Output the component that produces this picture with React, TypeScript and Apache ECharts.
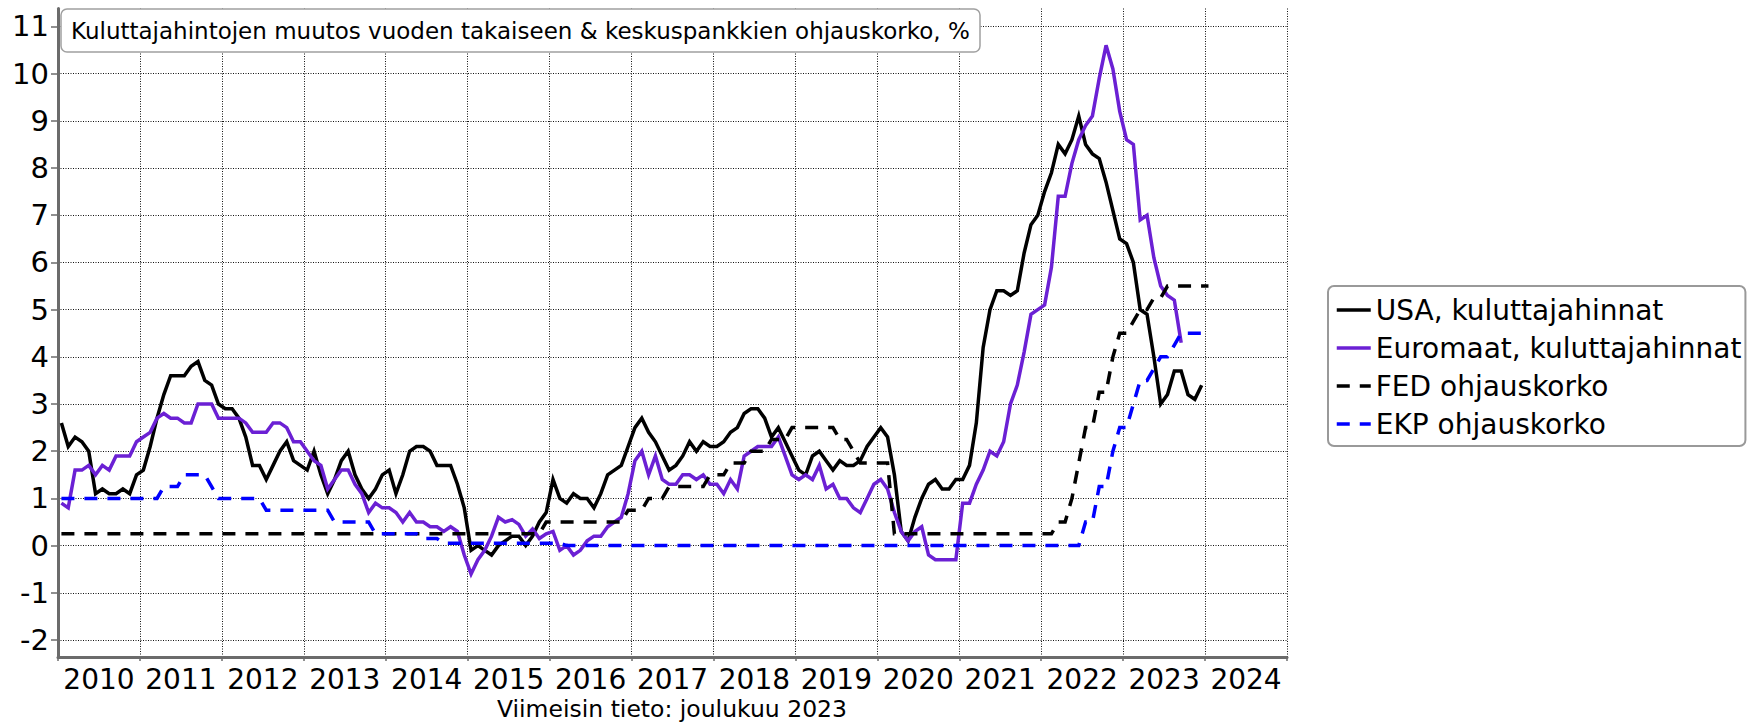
import React, { useEffect, useRef } from "react";
import * as echarts from "echarts";

const START_YEAR = 2010;
const yearLabels = ["2010", "2011", "2012", "2013", "2014", "2015", "2016", "2017", "2018", "2019", "2020", "2021", "2022", "2023", "2024"];
const yTicks = [-2, -1, 0, 1, 2, 3, 4, 5, 6, 7, 8, 9, 10, 11];
const seriesNames = ["USA, kuluttajahinnat", "Euromaat, kuluttajahinnat", "FED ohjauskorko", "EKP ohjauskorko"];
const titleText = "Kuluttajahintojen muutos vuoden takaiseen & keskuspankkien ohjauskorko, %";
const footText = "Viimeisin tieto: joulukuu 2023";

// monthly values, Jan 2010 ->
const usaCpi = [
  2.6, 2.1, 2.3, 2.2, 2.0, 1.1, 1.2, 1.1, 1.1, 1.2, 1.1, 1.5,
  1.6, 2.1, 2.7, 3.2, 3.6, 3.6, 3.6, 3.8, 3.9, 3.5, 3.4, 3.0,
  2.9, 2.9, 2.7, 2.3, 1.7, 1.7, 1.4, 1.7, 2.0, 2.2, 1.8, 1.7,
  1.6, 2.0, 1.5, 1.1, 1.4, 1.8, 2.0, 1.5, 1.2, 1.0, 1.2, 1.5,
  1.6, 1.1, 1.5, 2.0, 2.1, 2.1, 2.0, 1.7, 1.7, 1.7, 1.3, 0.8,
  -0.1, 0.0, -0.1, -0.2, 0.0, 0.1, 0.2, 0.2, 0.0, 0.2, 0.5, 0.7,
  1.4, 1.0, 0.9, 1.1, 1.0, 1.0, 0.8, 1.1, 1.5, 1.6, 1.7, 2.1,
  2.5, 2.7, 2.4, 2.2, 1.9, 1.6, 1.7, 1.9, 2.2, 2.0, 2.2, 2.1,
  2.1, 2.2, 2.4, 2.5, 2.8, 2.9, 2.9, 2.7, 2.3, 2.5, 2.2, 1.9,
  1.6, 1.5, 1.9, 2.0, 1.8, 1.6, 1.8, 1.7, 1.7, 1.8, 2.1, 2.3,
  2.5, 2.3, 1.5, 0.3, 0.1, 0.6, 1.0, 1.3, 1.4, 1.2, 1.2, 1.4,
  1.4, 1.7, 2.6, 4.2, 5.0, 5.4, 5.4, 5.3, 5.4, 6.2, 6.8, 7.0,
  7.5, 7.9, 8.5, 8.3, 8.6, 9.1, 8.5, 8.3, 8.2, 7.7, 7.1, 6.5,
  6.4, 6.0, 5.0, 4.9, 4.0, 3.0, 3.2, 3.7, 3.7, 3.2, 3.1, 3.4,
];

const euroHicp = [
  0.9, 0.8, 1.6, 1.6, 1.7, 1.5, 1.7, 1.6, 1.9, 1.9, 1.9, 2.2,
  2.3, 2.4, 2.7, 2.8, 2.7, 2.7, 2.6, 2.6, 3.0, 3.0, 3.0, 2.7,
  2.7, 2.7, 2.7, 2.6, 2.4, 2.4, 2.4, 2.6, 2.6, 2.5, 2.2, 2.2,
  2.0, 1.8, 1.7, 1.2, 1.4, 1.6, 1.6, 1.3, 1.1, 0.7, 0.9, 0.8,
  0.8, 0.7, 0.5, 0.7, 0.5, 0.5, 0.4, 0.4, 0.3, 0.4, 0.3, -0.2,
  -0.6, -0.3, -0.1, 0.2, 0.6, 0.5, 0.55, 0.45, 0.2, 0.35, 0.15, 0.25,
  0.3, -0.1, 0.0, -0.2, -0.1, 0.1, 0.2, 0.2, 0.4, 0.5, 0.6, 1.1,
  1.8, 2.0, 1.5, 1.9, 1.4, 1.3, 1.3, 1.5, 1.5, 1.4, 1.5, 1.3,
  1.3, 1.1, 1.4, 1.2, 1.9, 2.0, 2.1, 2.1, 2.1, 2.3, 1.9, 1.5,
  1.4, 1.5, 1.4, 1.7, 1.2, 1.3, 1.0, 1.0, 0.8, 0.7, 1.0, 1.3,
  1.4, 1.2, 0.7, 0.3, 0.1, 0.3, 0.4, -0.2, -0.3, -0.3, -0.3, -0.3,
  0.9, 0.9, 1.3, 1.6, 2.0, 1.9, 2.2, 3.0, 3.4, 4.1, 4.9, 5.0,
  5.1, 5.9, 7.4, 7.4, 8.1, 8.6, 8.9, 9.1, 9.9, 10.6, 10.1, 9.2,
  8.6, 8.5, 6.9, 7.0, 6.1, 5.5, 5.3, 5.2, 4.3,
];

const fedRate = [
  0.25, 0.25, 0.25, 0.25, 0.25, 0.25, 0.25, 0.25, 0.25, 0.25, 0.25, 0.25,
  0.25, 0.25, 0.25, 0.25, 0.25, 0.25, 0.25, 0.25, 0.25, 0.25, 0.25, 0.25,
  0.25, 0.25, 0.25, 0.25, 0.25, 0.25, 0.25, 0.25, 0.25, 0.25, 0.25, 0.25,
  0.25, 0.25, 0.25, 0.25, 0.25, 0.25, 0.25, 0.25, 0.25, 0.25, 0.25, 0.25,
  0.25, 0.25, 0.25, 0.25, 0.25, 0.25, 0.25, 0.25, 0.25, 0.25, 0.25, 0.25,
  0.25, 0.25, 0.25, 0.25, 0.25, 0.25, 0.25, 0.25, 0.25, 0.25, 0.25, 0.5,
  0.5, 0.5, 0.5, 0.5, 0.5, 0.5, 0.5, 0.5, 0.5, 0.5, 0.5, 0.75,
  0.75, 0.75, 1.0, 1.0, 1.0, 1.25, 1.25, 1.25, 1.25, 1.25, 1.25, 1.5,
  1.5, 1.5, 1.75, 1.75, 1.75, 2.0, 2.0, 2.0, 2.25, 2.25, 2.25, 2.5,
  2.5, 2.5, 2.5, 2.5, 2.5, 2.5, 2.25, 2.25, 2.0, 1.75, 1.75, 1.75,
  1.75, 1.75, 0.25, 0.25, 0.25, 0.25, 0.25, 0.25, 0.25, 0.25, 0.25, 0.25,
  0.25, 0.25, 0.25, 0.25, 0.25, 0.25, 0.25, 0.25, 0.25, 0.25, 0.25, 0.25,
  0.25, 0.25, 0.5, 0.5, 1.0, 1.75, 2.5, 2.5, 3.25, 3.25, 4.0, 4.5,
  4.5, 4.75, 5.0, 5.0, 5.25, 5.25, 5.5, 5.5, 5.5, 5.5, 5.5, 5.5,
  5.5,
];

const ecbRate = [
  1.0, 1.0, 1.0, 1.0, 1.0, 1.0, 1.0, 1.0, 1.0, 1.0, 1.0, 1.0,
  1.0, 1.0, 1.0, 1.25, 1.25, 1.25, 1.5, 1.5, 1.5, 1.5, 1.25, 1.0,
  1.0, 1.0, 1.0, 1.0, 1.0, 1.0, 0.75, 0.75, 0.75, 0.75, 0.75, 0.75,
  0.75, 0.75, 0.75, 0.75, 0.5, 0.5, 0.5, 0.5, 0.5, 0.5, 0.25, 0.25,
  0.25, 0.25, 0.25, 0.25, 0.25, 0.15, 0.15, 0.15, 0.05, 0.05, 0.05, 0.05,
  0.05, 0.05, 0.05, 0.05, 0.05, 0.05, 0.05, 0.05, 0.05, 0.05, 0.05, 0.05,
  0.05, 0.05, 0, 0, 0, 0, 0, 0, 0, 0, 0, 0,
  0, 0, 0, 0, 0, 0, 0, 0, 0, 0, 0, 0,
  0, 0, 0, 0, 0, 0, 0, 0, 0, 0, 0, 0,
  0, 0, 0, 0, 0, 0, 0, 0, 0, 0, 0, 0,
  0, 0, 0, 0, 0, 0, 0, 0, 0, 0, 0, 0,
  0, 0, 0, 0, 0, 0, 0, 0, 0, 0, 0, 0,
  0, 0, 0, 0, 0, 0, 0.5, 0.5, 1.25, 1.25, 2.0, 2.5,
  2.5, 3.0, 3.5, 3.5, 3.75, 4.0, 4.0, 4.25, 4.5, 4.5, 4.5, 4.5,
  4.5,
];

const toPoints = (vals: number[]) => vals.map((v, i) => [START_YEAR + (i + 0.5) / 12, v]);

const FONT = "DejaVu Sans";
const AXIS_GRAY = "#6b6b6b";
const GRID_COLOR = "#111111";
const GRID_DASH = [1, 1.5];
const DASH = [13, 10];
const LINE_W = 3.5;
const colors = ["#000000", "#6b20d4", "#000000", "#0000ff"];
const dashed = [false, false, true, true];

export default function App() {
  const ref = useRef<HTMLDivElement>(null);
  useEffect(() => {
    if (!ref.current) return;
    const chart = echarts.init(ref.current, null, { renderer: "svg" });
    const lineSeries = (idx: number, vals: number[]) => ({
      name: seriesNames[idx],
      type: "line",
      xAxisIndex: 0,
      yAxisIndex: 0,
      data: toPoints(vals),
      showSymbol: false,
      symbol: "none",
      silent: true,
      lineStyle: { color: colors[idx], width: LINE_W, type: dashed[idx] ? DASH : "solid", cap: "butt", join: "miter" },
      itemStyle: { color: colors[idx] },
      emphasis: { disabled: true },
    });
    chart.setOption({
      animation: false,
      textStyle: { fontFamily: FONT },
      title: {
        text: titleText,
        left: 61,
        top: 9,
        padding: [10, 10, 10, 10],
        backgroundColor: "#fff",
        borderColor: "#a0a0a0",
        borderWidth: 1.5,
        borderRadius: 6,
        textStyle: { fontFamily: FONT, fontSize: 23, fontWeight: "normal", color: "#000", lineHeight: 23 },
      },
      legend: {
        orient: "vertical",
        left: 1328,
        top: 286,
        padding: [10, 4, 8, 7],
        itemGap: 10,
        itemWidth: 34,
        itemHeight: 14,
        backgroundColor: "#fff",
        borderColor: "#999",
        borderWidth: 2,
        borderRadius: 6,
        itemStyle: { opacity: 0, color: "transparent", borderWidth: 0 },
        data: seriesNames.map((name, idx) => ({
          name,
          itemStyle: { opacity: 0, color: "transparent", borderWidth: 0 },
          lineStyle: { color: colors[idx], width: LINE_W, type: dashed[idx] ? DASH : "solid", cap: "butt" },
        })),
        textStyle: { fontFamily: FONT, fontSize: 28, color: "#000" },
      },
      grid: { left: 58, right: 461, top: 8.5, bottom: 67, containLabel: false, outerBoundsMode: "none" },
      xAxis: [
        {
          type: "value",
          min: 2010,
          max: 2025,
          interval: 1,
          position: "bottom",
          axisLine: { show: true, onZero: false, lineStyle: { color: AXIS_GRAY, width: 3 } },
          axisTick: { show: true, length: 4, lineStyle: { color: AXIS_GRAY, width: 1.5 } },
          axisLabel: { show: false },
          splitLine: { show: true, showMinLine: false, lineStyle: { color: GRID_COLOR, width: 1, type: GRID_DASH } },
        },
        {
          type: "category",
          data: yearLabels,
          position: "bottom",
          boundaryGap: true,
          axisLine: { show: false, onZero: false },
          axisTick: { show: false },
          splitLine: { show: false },
          axisLabel: { show: true, interval: 0, fontFamily: FONT, fontSize: 28, color: "#000", margin: 8 },
        },
      ],
      yAxis: {
        type: "value",
        min: -2.36,
        max: 11.38,
        splitNumber: 14,
        minInterval: 1,
        maxInterval: 1,
        axisLine: { show: true, onZero: false, lineStyle: { color: AXIS_GRAY, width: 3 } },
        axisTick: { show: true, length: 7, customValues: yTicks, lineStyle: { color: AXIS_GRAY, width: 1.5 } },
        axisLabel: { show: true, customValues: yTicks, fontFamily: FONT, fontSize: 29, color: "#000", margin: 9 },
        splitLine: { show: true, lineStyle: { color: GRID_COLOR, width: 1, type: GRID_DASH } },
      },
      graphic: [
        {
          type: "text",
          x: 672,
          y: 709,
          style: { text: footText, fontFamily: FONT, fontSize: 23.5, fill: "#000", textAlign: "center", textVerticalAlign: "middle" },
        },
      ],
      series: [
        lineSeries(0, usaCpi),
        lineSeries(1, euroHicp),
        lineSeries(2, fedRate),
        lineSeries(3, ecbRate),
      ],
    });
    return () => chart.dispose();
  }, []);
  return <div ref={ref} style={{ position: "fixed", left: 0, top: 0, width: 1748, height: 724, background: "#fff" }} />;
}
